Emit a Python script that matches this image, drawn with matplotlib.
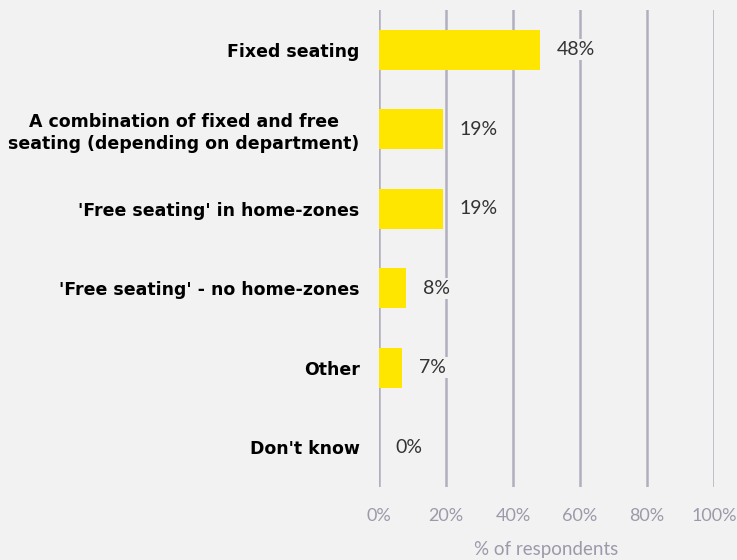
import matplotlib.pyplot as plt

categories = ["Fixed seating",
              "A combination of fixed and free\nseating (depending on department)",
              "'Free seating' in home-zones",
              "'Free seating' - no home-zones",
              "Other",
              "Don't know"]
values = [48, 19, 19, 8, 7, 0]
ticks = [0, 20, 40, 60, 80, 100]
tick_labels = ["0%", "20%", "40%", "60%", "80%", "100%"]

bg = "#f2f2f2"
yellow = "#ffe600"
gridc = "#b1afbf"

fig = plt.figure(figsize=(7.37, 5.6), dpi=100, facecolor=bg)
ax = fig.add_axes([379/737, 1-487/560, 335/737, 477/560])
ax.set_facecolor(bg)

pos = list(range(len(categories)))
for t in ticks:
    ax.axvline(t, color=gridc, lw=1.8, zorder=1)
ax.barh(pos, values, height=0.5, color=yellow, zorder=2)

# value labels sit on a background patch so they cut through the gridlines
for y, v in zip(pos, values):
    ax.text(v + 5.0, y, f"{v}%", va="center", ha="left", fontsize=14,
            color="#333333", family="Lato", zorder=3,
            bbox=dict(facecolor=bg, edgecolor="none", pad=1.5))

ax.set_xlim(0, 100)
ax.set_ylim(len(categories) - 0.5, -0.5)
ax.set_xticks(ticks)
ax.set_xticklabels(tick_labels, fontsize=13, color="#9c9aaa", family="Lato")
ax.set_yticks(pos)
ax.set_yticklabels(categories, fontsize=12.5, fontweight="bold", color="black",
                   family="DejaVu Sans", ha="right", multialignment="center",
                   linespacing=1.25)
ax.tick_params(axis="both", length=0)
ax.tick_params(axis="y", pad=14)
ax.tick_params(axis="x", pad=15)
for s in ax.spines.values():
    s.set_visible(False)
ax.set_xlabel("% of respondents", fontsize=13.5, color="#9c9aaa", family="Lato",
              labelpad=12)

fig.savefig("out.png", dpi=100, facecolor=bg)
